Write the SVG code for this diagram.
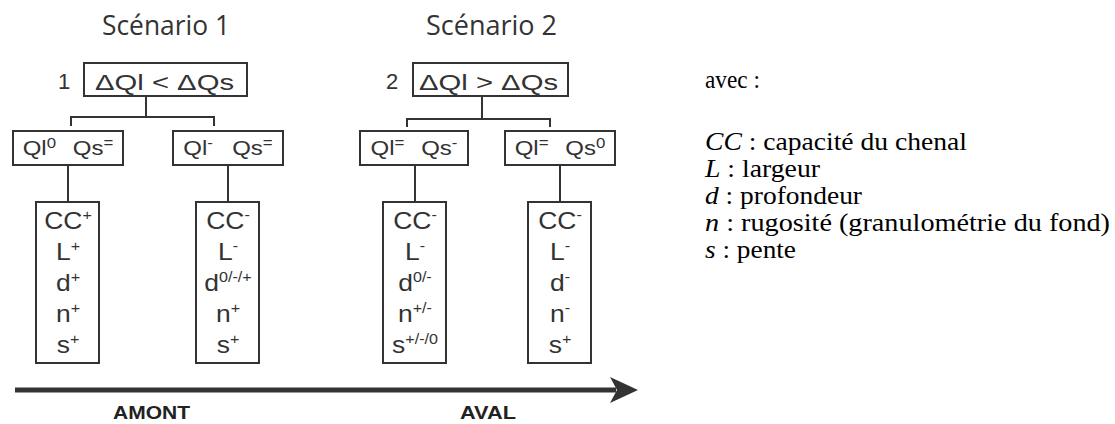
<svg xmlns="http://www.w3.org/2000/svg" width="1115" height="424" viewBox="0 0 1115 424">
<style>
.box{fill:#fff;stroke:#333;stroke-width:2}
.ln{stroke:#333;stroke-width:2;fill:none}
.t{font-family:"Liberation Sans",Arial,sans-serif;fill:#333}
.ttl{font-family:"Open Sans","Noto Sans",sans-serif;font-size:27px;fill:#333}
.hd{font-size:22px}
.q{font-size:20px}
.v{font-size:23px}
.sup{font-size:14px}
.lg{font-family:"Liberation Serif","Times New Roman",serif;font-size:26px;fill:#000}
.it{font-style:italic}
.b{font-weight:bold;font-size:18px;fill:#222}
</style>
<rect width="1115" height="424" fill="#fff"/>
<text class="ttl" x="102" y="35" textLength="128" lengthAdjust="spacingAndGlyphs">Scénario 1</text>
<text class="ttl" x="426" y="35" textLength="131" lengthAdjust="spacingAndGlyphs">Scénario 2</text>
<g id="connectors">
<path class="ln" d="M146 96V117M71 126V117H214V126"/>
<path class="ln" d="M482 96V119M407 127V119H550V127"/>
<path class="ln" d="M68 165V202M228 165V202M415 165V202M560 165V202"/>
<line x1="15" y1="390" x2="616" y2="390" stroke="#333" stroke-width="5"/>
<polygon points="638,390 610,377 617,390 610,403" fill="#333"/>
</g>
<g id="n-s1">
<text class="t hd" x="58" y="89" font-size="23">1</text>
<rect class="box" x="84" y="63" width="163" height="33"/>
<text class="t hd" x="95" y="90" textLength="139" lengthAdjust="spacingAndGlyphs">ΔQl &lt; ΔQs</text>
</g>
<g id="n-s2">
<text class="t hd" x="386" y="89" font-size="23">2</text>
<rect class="box" x="413" y="63" width="155" height="33"/>
<text class="t hd" x="419" y="90" textLength="139" lengthAdjust="spacingAndGlyphs">ΔQl &gt; ΔQs</text>
</g>
<g id="n-a">
<rect class="box" x="13" y="131" width="110" height="34"/>
<text class="t q" x="68" y="155" text-anchor="middle" transform="matrix(1.2,0,0,1,-13.6,0)">Ql<tspan class="sup" dy="-7">0</tspan><tspan dy="7" dx="14">Qs</tspan><tspan class="sup" dy="-7">=</tspan></text>
</g>
<g id="n-b">
<rect class="box" x="173" y="131" width="110" height="34"/>
<text class="t q" x="228" y="155" text-anchor="middle" transform="matrix(1.2,0,0,1,-45.6,0)">Ql<tspan class="sup" dy="-7">-</tspan><tspan dy="7" dx="16">Qs</tspan><tspan class="sup" dy="-7">=</tspan></text>
</g>
<g id="n-c">
<rect class="box" x="360" y="131" width="108" height="34"/>
<text class="t q" x="414" y="155" text-anchor="middle" transform="matrix(1.2,0,0,1,-82.8,0)">Ql<tspan class="sup" dy="-7">=</tspan><tspan dy="7" dx="14">Qs</tspan><tspan class="sup" dy="-7">-</tspan></text>
</g>
<g id="n-d">
<rect class="box" x="505" y="131" width="110" height="34"/>
<text class="t q" x="560" y="155" text-anchor="middle" transform="matrix(1.2,0,0,1,-112,0)">Ql<tspan class="sup" dy="-7">=</tspan><tspan dy="7" dx="14">Qs</tspan><tspan class="sup" dy="-7">0</tspan></text>
</g>
<g id="v-a">
<rect class="box" x="36" y="202" width="63" height="161"/>
<g class="t v" text-anchor="middle" transform="matrix(1.15,0,0,1,-10.2,0)">
<text x="68" y="229">CC<tspan class="sup" dy="-9">+</tspan></text>
<text x="68" y="260">L<tspan class="sup" dy="-9">+</tspan></text>
<text x="68" y="291">d<tspan class="sup" dy="-9">+</tspan></text>
<text x="68" y="322">n<tspan class="sup" dy="-9">+</tspan></text>
<text x="68" y="353">s<tspan class="sup" dy="-9">+</tspan></text>
</g>
</g>
<g id="v-b">
<rect class="box" x="196" y="202" width="63" height="161"/>
<g class="t v" text-anchor="middle" transform="matrix(1.15,0,0,1,-34.2,0)">
<text x="228" y="229">CC<tspan class="sup" dy="-9">-</tspan></text>
<text x="228" y="260">L<tspan class="sup" dy="-9">-</tspan></text>
<text x="228" y="291">d<tspan class="sup" dy="-9">0/-/+</tspan></text>
<text x="228" y="322">n<tspan class="sup" dy="-9">+</tspan></text>
<text x="228" y="353">s<tspan class="sup" dy="-9">+</tspan></text>
</g>
</g>
<g id="v-c">
<rect class="box" x="383" y="202" width="63" height="161"/>
<g class="t v" text-anchor="middle" transform="matrix(1.15,0,0,1,-62.25,0)">
<text x="415" y="229">CC<tspan class="sup" dy="-9">-</tspan></text>
<text x="415" y="260">L<tspan class="sup" dy="-9">-</tspan></text>
<text x="415" y="291">d<tspan class="sup" dy="-9">0/-</tspan></text>
<text x="415" y="322">n<tspan class="sup" dy="-9">+/-</tspan></text>
<text x="415" y="353">s<tspan class="sup" dy="-9">+/-/0</tspan></text>
</g>
</g>
<g id="v-d">
<rect class="box" x="528" y="202" width="63" height="161"/>
<g class="t v" text-anchor="middle" transform="matrix(1.15,0,0,1,-84,0)">
<text x="560" y="229">CC<tspan class="sup" dy="-9">-</tspan></text>
<text x="560" y="260">L<tspan class="sup" dy="-9">-</tspan></text>
<text x="560" y="291">d<tspan class="sup" dy="-9">-</tspan></text>
<text x="560" y="322">n<tspan class="sup" dy="-9">-</tspan></text>
<text x="560" y="353">s<tspan class="sup" dy="-9">+</tspan></text>
</g>
</g>
<text class="t b" x="113" y="419" textLength="77" lengthAdjust="spacingAndGlyphs">AMONT</text>
<text class="t b" x="460" y="419" textLength="56" lengthAdjust="spacingAndGlyphs">AVAL</text>
<g id="legend" class="lg">
<text x="705" y="88" textLength="55" lengthAdjust="spacingAndGlyphs">avec :</text>
<text x="705" y="150" textLength="262" lengthAdjust="spacingAndGlyphs"><tspan class="it">CC</tspan> : capacité du chenal</text>
<text x="705" y="177" textLength="115" lengthAdjust="spacingAndGlyphs"><tspan class="it">L</tspan> : largeur</text>
<text x="705" y="204" textLength="157" lengthAdjust="spacingAndGlyphs"><tspan class="it">d</tspan> : profondeur</text>
<text x="705" y="231" textLength="405" lengthAdjust="spacingAndGlyphs"><tspan class="it">n</tspan> : rugosité (granulométrie du fond)</text>
<text x="705" y="258" textLength="91" lengthAdjust="spacingAndGlyphs"><tspan class="it">s</tspan> : pente</text>
</g>
</svg>
